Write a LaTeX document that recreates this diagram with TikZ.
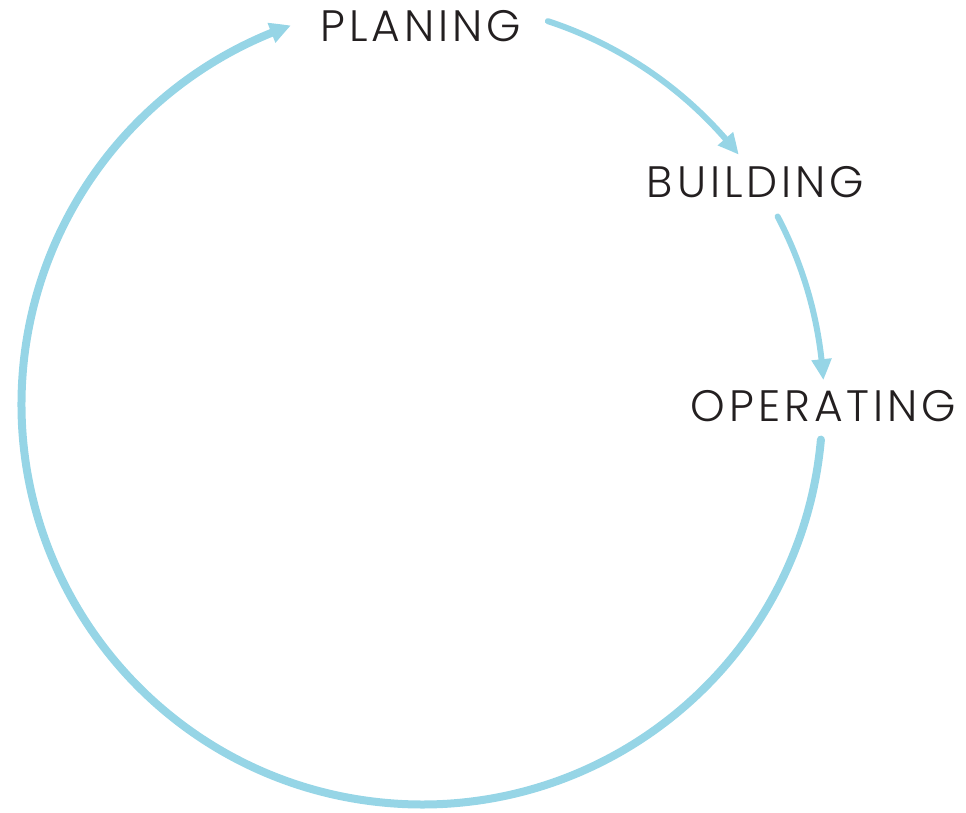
\documentclass[tikz,border=0pt]{standalone}
\usepackage{fontspec}
\setmainfont{Poppins}[UprightFont={* Light},LetterSpace=9]
\usetikzlibrary{arrows.meta,bending}
\definecolor{cyc}{RGB}{150,213,230}
\definecolor{txt}{RGB}{35,31,32}
\tikzset{
  lbl/.style={inner sep=0pt, text=txt, font=\fontsize{44}{44}\selectfont},
  bigarc/.style={draw=cyc, line width=8pt, line cap=round, -{Triangle[length=21pt,width=20pt,bend]}},
  smallarc/.style={draw=cyc, line width=6pt, line cap=round, -{Triangle[length=21pt,width=19pt,bend]}}
}
\begin{document}
\begin{tikzpicture}[x=1pt,y=1pt]
\useasboundingbox (0,0) rectangle (966,813);
\coordinate (c) at (422,409);
\node[lbl] (plan) at (421,787) {PLANING};
\node[lbl] (build) at (755.5,630.5) {BUILDING};
\node[lbl] (oper) at (823.5,407) {OPERATING};
\draw[smallarc] (c) ++(71.8:403) arc[start angle=71.8, end angle=38.2, radius=403];
\draw[smallarc] (c) ++(27.8:402) arc[start angle=27.8, end angle=3.4, radius=402];
\draw[bigarc] (c) ++(-5.1:400.5) arc[start angle=-5.1, end angle=-250.9, radius=400.5];
\end{tikzpicture}
\end{document}
